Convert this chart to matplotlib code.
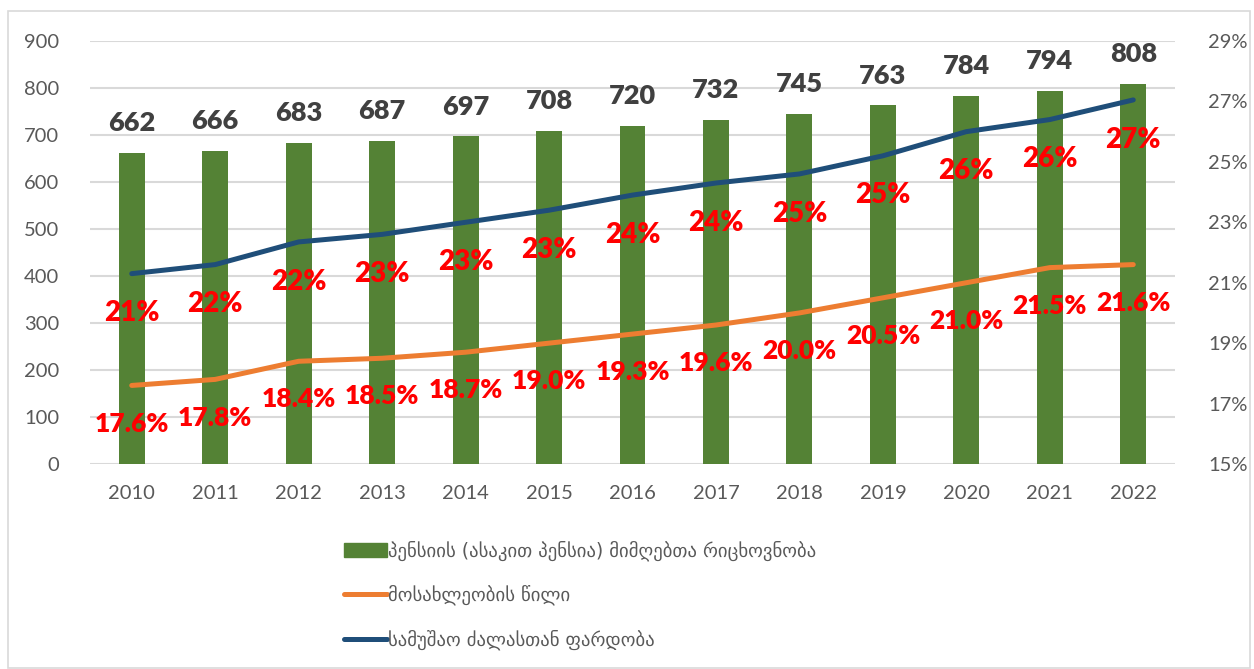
import matplotlib
matplotlib.use("Agg")
import matplotlib.pyplot as plt
from matplotlib.patches import Rectangle
from matplotlib.lines import Line2D
from matplotlib.patches import Patch

years = ["2010", "2011", "2012", "2013", "2014", "2015", "2016",
         "2017", "2018", "2019", "2020", "2021", "2022"]
pensioners = [662, 666, 683, 687, 697, 708, 720, 732, 745, 763, 784, 794, 808]
population_share = [17.6, 17.8, 18.4, 18.5, 18.7, 19.0, 19.3, 19.6, 20.0, 20.5, 21.0, 21.5, 21.6]
workforce_ratio = [21.3, 21.6, 22.35, 22.6, 23.0, 23.4, 23.9, 24.3, 24.6, 25.2, 26.0, 26.4, 27.05]
workforce_labels = ["21%", "22%", "22%", "23%", "23%", "23%", "24%",
                    "24%", "25%", "25%", "26%", "26%", "27%"]
legend_labels = ["პენსიის (ასაკით პენსია) მიმღებთა რიცხოვნობა",
                 "მოსახლეობის წილი",
                 "სამუშაო ძალასთან ფარდობა"]

GREEN = "#548235"
ORANGE = "#ED7D31"
NAVY = "#1F4E79"
GRID = "#D9D9D9"
TICK = "#595959"
LABEL = "#404040"
RED = "#FF0000"

W, H = 1254, 669
fig = plt.figure(figsize=(W / 100, H / 100), dpi=100)
fig.patch.set_facecolor("white")
fig.patches.append(Rectangle((8 / W, 1 / H), (W - 12) / W, (H - 12) / H,
                             transform=fig.transFigure, fill=False,
                             edgecolor="#D9D9D9", linewidth=1.2))

left, right, top, bottom = 90, 1175, 41, 464
ax = fig.add_axes([left / W, 1 - bottom / H, (right - left) / W, (bottom - top) / H])
ax2 = ax.twinx()

x = list(range(len(years)))
ax.bar(x, pensioners, width=0.31, color=GREEN, zorder=2)
ax.set_xlim(-0.5, len(years) - 0.5)
ax.set_ylim(0, 900)
ax.set_yticks(range(0, 901, 100))
ax.yaxis.grid(True, color=GRID, linewidth=1.5, zorder=0)
ax.set_axisbelow(True)
ax.set_xticks(x)
ax.set_xticklabels(years)

lab_font = "Lato"
for a in (ax, ax2):
    for s in a.spines.values():
        s.set_visible(False)
ax.tick_params(axis="both", length=0, labelsize=14.5, labelcolor=TICK)
ax.tick_params(axis="y", pad=22)
ax.tick_params(axis="x", pad=15)
for t in ax.get_xticklabels() + ax.get_yticklabels():
    t.set_fontfamily(lab_font)

ax2.set_ylim(15, 29)
ax2.set_yticks(range(15, 30, 2))
ax2.set_yticklabels([f"{v}%" for v in range(15, 30, 2)])
ax2.tick_params(axis="y", length=0, labelsize=14.5, labelcolor=TICK, pad=24)
for t in ax2.get_yticklabels():
    t.set_fontfamily(lab_font)

ax2.plot(x, population_share, color=ORANGE, linewidth=3.6, solid_capstyle="round",
         solid_joinstyle="round", zorder=3)
ax2.plot(x, workforce_ratio, color=NAVY, linewidth=3.6, solid_capstyle="round",
         solid_joinstyle="round", zorder=3)

for xi, v in zip(x, pensioners):
    ax.annotate(str(v), (xi, v), xytext=(0, 21.5), textcoords="offset points",
                ha="center", va="center", fontsize=19.5, fontweight="heavy",
                color=LABEL, family=lab_font, zorder=5)
for xi, v in zip(x, population_share):
    ax2.annotate(f"{v:.1f}%", (xi, v), xytext=(0, -27.5), textcoords="offset points",
                 ha="center", va="center", fontsize=19, fontweight="heavy",
                 color=RED, family=lab_font, zorder=5)
for xi, v, s in zip(x, workforce_ratio, workforce_labels):
    ax2.annotate(s, (xi, v), xytext=(0, -28.5), textcoords="offset points",
                 ha="center", va="center", fontsize=20, fontweight="heavy",
                 color=RED, family=lab_font, zorder=5)

handles = [Patch(facecolor=GREEN, edgecolor=GREEN),
           Line2D([0], [0], color=ORANGE, linewidth=3.6, solid_capstyle="round"),
           Line2D([0], [0], color=NAVY, linewidth=3.6, solid_capstyle="round")]
leg = fig.legend(handles, legend_labels, loc="upper left",
                 bbox_to_anchor=(336 / W, 1 - 533 / H), frameon=False,
                 handlelength=2.3, handleheight=0.7,
                 handletextpad=0.1, labelspacing=1.28, borderaxespad=0,
                 prop={"family": "DejaVu Sans", "size": 13.5})
for t in leg.get_texts():
    t.set_color(TICK)

fig.savefig("out.png", dpi=100, facecolor="white")
